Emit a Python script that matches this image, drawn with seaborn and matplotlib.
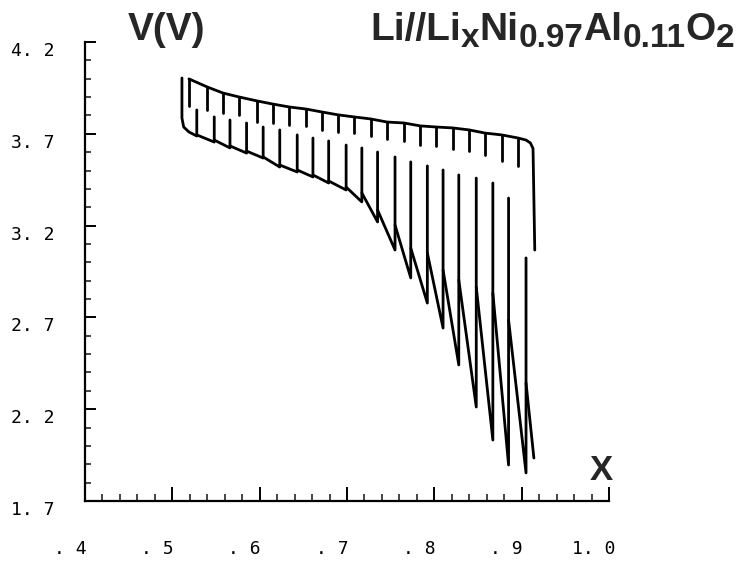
import numpy as np
import pandas as pd
import matplotlib
matplotlib.use('Agg')
import matplotlib.pyplot as plt
import matplotlib.transforms as mtransforms
from matplotlib.ticker import MultipleLocator
import seaborn as sns

# pulse starts: short stubs hanging from the upper (relaxed) curve
stub_x = [0.519, 0.540, 0.558, 0.576, 0.597, 0.615, 0.634, 0.653, 0.671, 0.690, 0.708,
          0.727, 0.746, 0.765, 0.784, 0.802, 0.821, 0.840, 0.858, 0.877, 0.896]
stub_top = [3.999, 3.955, 3.922, 3.901, 3.879, 3.862, 3.846, 3.835, 3.819, 3.803, 3.792,
            3.781, 3.764, 3.759, 3.743, 3.737, 3.732, 3.721, 3.704, 3.694, 3.677]
stub_bottom = [3.852, 3.830, 3.813, 3.803, 3.764, 3.759, 3.748, 3.743, 3.721, 3.710, 3.704,
               3.688, 3.672, 3.661, 3.639, 3.634, 3.617, 3.606, 3.585, 3.552, 3.525]

# pulse ends: spikes rising from the lower (loaded) curve
spike_x = [0.528, 0.548, 0.566, 0.585, 0.604, 0.623, 0.643, 0.661, 0.679, 0.699, 0.717,
           0.735, 0.755, 0.773, 0.792, 0.810, 0.828, 0.848, 0.867, 0.885, 0.905]
spike_min = [3.688, 3.655, 3.623, 3.595, 3.568, 3.519, 3.492, 3.465, 3.432, 3.394, 3.329,
             3.220, 3.067, 2.915, 2.778, 2.642, 2.441, 2.212, 2.032, 1.896, 1.853]
spike_top = [3.830, 3.792, 3.775, 3.759, 3.737, 3.721, 3.694, 3.677, 3.661, 3.639, 3.623,
             3.601, 3.574, 3.547, 3.525, 3.503, 3.476, 3.459, 3.432, 3.350, 3.024]
restart_v = [3.694, 3.666, 3.634, 3.606, 3.574, 3.530, 3.503, 3.476, 3.443, 3.410, 3.378,
             3.285, 3.203, 3.078, 3.051, 2.958, 2.904, 2.866, 2.833, 2.686, 2.343]

# first discharge step, last step and the final drop of the upper curve
first_x = [0.511, 0.511, 0.513, 0.519]
first_v = [4.004, 3.786, 3.737, 3.710]
last_x = [0.914]
last_v = [1.934]
end_x = [0.905, 0.910, 0.913, 0.915]
end_v = [3.666, 3.650, 3.620, 3.067]

x_ticks = [0.4, 0.5, 0.6, 0.7, 0.8, 0.9, 1.0]
x_labels = ['. 4', '. 5', '. 6', '. 7', '. 8', '. 9', '1. 0']
y_ticks = [1.7, 2.2, 2.7, 3.2, 3.7, 4.2]
y_labels = ['1. 7', '2. 2', '2. 7', '3. 2', '3. 7', '4. 2']

# build line segments
rows = []
def add(seg, xs, vs):
    for a, b in zip(xs, vs):
        rows.append((seg, a, b))

add(0, stub_x + end_x, stub_top + end_v)
for i in range(len(stub_x)):
    add(1 + i, [stub_x[i], stub_x[i]], [stub_top[i], stub_bottom[i]])
add(100, first_x + [spike_x[0], spike_x[0]], first_v + [spike_min[0], spike_top[0]])
for j in range(1, len(spike_x)):
    add(100 + j, [spike_x[j - 1], spike_x[j], spike_x[j]],
        [restart_v[j - 1], spike_min[j], spike_top[j]])
add(200, [spike_x[-1]] + last_x, [restart_v[-1]] + last_v)
df = pd.DataFrame(rows, columns=['seg', 'x', 'V'])

sns.set_style('ticks')
plt.rcParams['font.family'] = ['DejaVu Sans Mono', 'DejaVu Sans']

fig = plt.figure(figsize=(7.54, 5.66), dpi=100)
ax = fig.add_axes([85 / 754, 65 / 566, 524 / 754, 459 / 566])
sns.lineplot(data=df, x='x', y='V', units='seg', estimator=None, sort=False,
             color='black', lw=2.0, ax=ax, legend=False)

ax.set_xlim(0.4, 1.0)
ax.set_ylim(1.7, 4.2)
ax.set_xlabel('')
ax.set_ylabel('')
for s in ['top', 'right']:
    ax.spines[s].set_visible(False)
for s in ['left', 'bottom']:
    ax.spines[s].set_linewidth(1.6)
    ax.spines[s].set_color('black')

ax.set_xticks(x_ticks)
ax.set_xticklabels(x_labels, fontsize=13)
ax.set_yticks(y_ticks)
ax.set_yticklabels(y_labels, fontsize=13)
ax.xaxis.set_minor_locator(MultipleLocator(0.02))
ax.yaxis.set_minor_locator(MultipleLocator(0.1))
ax.tick_params(axis='x', which='major', direction='in', length=10, width=1.4, pad=28, colors='black')
ax.tick_params(axis='x', which='minor', direction='in', length=5, width=1.2)
ax.tick_params(axis='y', which='major', direction='in', length=8, width=1.4, pad=22, colors='black')
ax.tick_params(axis='y', which='minor', direction='in', length=4, width=1.2)
yshift = mtransforms.ScaledTranslation(0, -0.07, fig.dpi_scale_trans)
for lbl in ax.get_yticklabels():
    lbl.set_transform(lbl.get_transform() + yshift)
xshift = mtransforms.ScaledTranslation(-0.15, 0, fig.dpi_scale_trans)
for lbl in ax.get_xticklabels():
    lbl.set_transform(lbl.get_transform() + xshift)

# titles
fig.text(128 / 754, 1 - 40 / 566, 'V(V)', fontsize=28, fontweight='bold',
         family='Liberation Sans', va='baseline')
fig.text(590 / 754, 1 - 480 / 566, 'X', fontsize=25, fontweight='bold',
         family='Liberation Sans', va='baseline')

pieces = [('Li//Li', False), ('x', True), ('Ni', False), ('0.97', True),
          ('Al', False), ('0.11', True), ('O', False), ('2', True)]
renderer = fig.canvas.get_renderer()
xpos = 370
for txt, small in pieces:
    base = 47 if small else 40
    t = fig.text(xpos / 754, 1 - base / 566, txt, fontsize=24 if small else 28,
                 fontweight='bold', family='Liberation Sans', va='baseline')
    xpos = t.get_window_extent(renderer).x1

fig.savefig('out.png', dpi=100)
